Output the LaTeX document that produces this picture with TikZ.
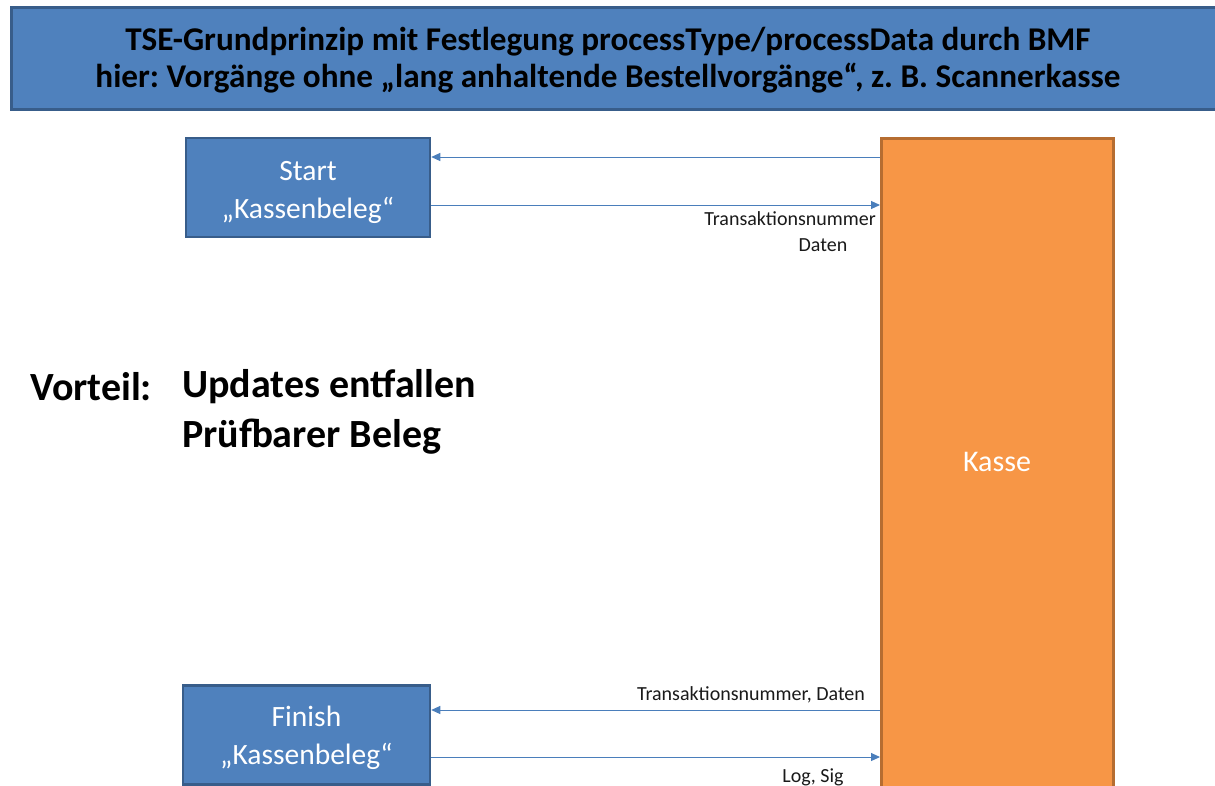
\documentclass[tikz,border=0pt]{standalone}
\usepackage{fontspec}
\setmainfont{Carlito}
\frenchspacing
\usetikzlibrary{arrows.meta,calc}
\definecolor{boxblue}{HTML}{4F81BD}
\definecolor{boxline}{HTML}{385D8A}
\definecolor{kassefill}{HTML}{F79646}
\definecolor{kasseline}{HTML}{B66D31}
\definecolor{arrowblue}{HTML}{4A7EBB}
\definecolor{txt}{HTML}{1A1A1A}
\tikzset{
  bluebox/.style={draw=boxline, line width=2.5pt, fill=boxblue, minimum width=244pt, minimum height=99pt, inner sep=0pt},
  boxtext/.style={text=white, align=center, font=\fontsize{29.5}{38}\selectfont, inner sep=0pt},
  arr/.style={draw=arrowblue, line width=1pt, -{Triangle[length=9pt,width=8pt]}},
  lbl/.style={text=txt, font=\fontsize{20}{24}\selectfont, inner sep=0pt},
  big/.style={text=black, font=\bfseries\fontsize{40}{48}\selectfont, inner sep=0pt, anchor=west},
}
\begin{document}
\begin{tikzpicture}[x=1pt,y=-1pt]
\useasboundingbox (0,0) rectangle (1215,785);
\fill[white] (0,0) rectangle (1215,785);
\begin{scope}
\clip (0,0) rectangle (1215,785);
% title bar
\node[draw=boxline, line width=2.5pt, fill=boxblue, minimum width=1215pt, minimum height=102pt, anchor=north west, inner sep=0pt] (title) at (10,6) {};
\node[text=black, align=center, inner sep=0pt, font=\bfseries\fontsize{33.2}{37}\selectfont] (titletxt) at (608,60)
  {TSE-Grundprinzip mit Festlegung processType/processData durch BMF\\hier: Vorgänge ohne „lang anhaltende Bestellvorgänge“, z. B. Scannerkasse};
% Kasse
\node[draw=kasseline, line width=3pt, fill=kassefill, minimum width=232pt, minimum height=660pt, anchor=north west, inner sep=0pt] (kasse) at (880,137) {};
\node[text=white, font=\fontsize{30}{36}\selectfont] (kassetxt) at (997,462) {Kasse};
% boxes
\node[bluebox] (start) at (308,187.5) {};
\node[boxtext] (starttxt) at ($(start.center)+(0,5)$) {Start\\„Kassenbeleg“};
\node[bluebox, minimum width=247pt] (finish) at (306.5,735) {};
\node[boxtext] (finishtxt) at ($(finish.center)+(0,3)$) {Finish\\„Kassenbeleg“};
\end{scope}
% arrows
\draw[arr] (kasse.west |- 0,157) -- (start.east |- 0,157);
\draw[arr] (start.east |- 0,205) -- (kasse.west |- 0,205);
\draw[arr] (kasse.west |- 0,710) -- (finish.east |- 0,710);
\draw[arr] (finish.east |- 0,757) -- (kasse.west |- 0,757);
% labels
\node[lbl, anchor=east] (l1) at (876,219) {Transaktionsnummer};
\node[lbl] (l2) at (823,245) {Daten};
\node[lbl] (l3) at (751,695) {Transaktionsnummer, Daten};
\node[lbl] (l4) at (813,777) {Log, Sig};
% Vorteil
\node[big] (vorteil) at (30,387) {Vorteil:};
\node[big] (v1) at (182,387) {Updates entfallen};
\node[big] (v2) at (182,437) {Prüfbarer Beleg};
\end{tikzpicture}
\end{document}
